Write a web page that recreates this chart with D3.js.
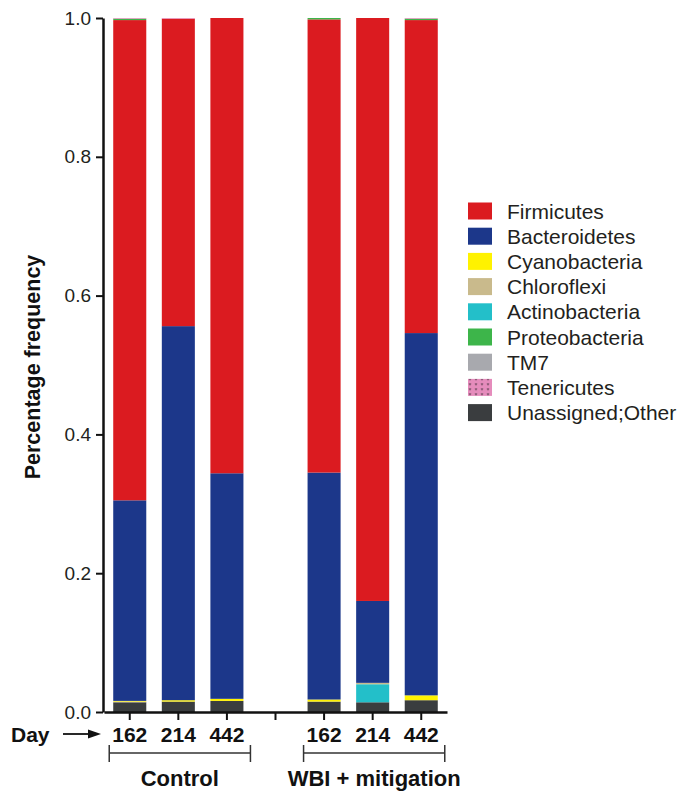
<!DOCTYPE html>
<html>
<head>
<meta charset="utf-8">
<script src="https://cdnjs.cloudflare.com/ajax/libs/d3/7.8.5/d3.min.js"></script>
<style>
  body { margin: 0; background: #fff; }
  svg { display: block; font-family: 'Liberation Sans', Arial, Helvetica, sans-serif; }
</style>
</head>
<body>
<div id="graph-container"></div>
<script>
// categories (gap slot separates the two groups)
const slots = ['c162', 'c214', 'c442', 'gap', 'w162', 'w214', 'w442'];
const dayLabels = ['162', '214', '442', '', '162', '214', '442'];
const groups = [
  { name: 'Control', from: 'c162', to: 'c442' },
  { name: 'WBI + mitigation', from: 'w162', to: 'w442' },
];
const yTicks = [0, 0.2, 0.4, 0.6, 0.8, 1.0];

// legend order (top to bottom)
const phyla = ['Firmicutes', 'Bacteroidetes', 'Cyanobacteria', 'Chloroflexi', 'Actinobacteria',
  'Proteobacteria', 'TM7', 'Tenericutes', 'Unassigned;Other'];
const colors = ['#db1b20', '#1c378a', '#fff200', '#c9ba8c', '#23bfc9', '#3db54a', '#a8a9ae', 'url(#teneri)', '#3a3d3f'];

// stacking order bottom -> top
const stackOrder = ['Unassigned;Other', 'Actinobacteria', 'Chloroflexi', 'Cyanobacteria',
  'Bacteroidetes', 'Firmicutes', 'TM7', 'Proteobacteria', 'Tenericutes'];

// relative abundance per sample, in slot order (gap omitted)
const samples = ['c162', 'c214', 'c442', 'w162', 'w214', 'w442'];
const firmicutes     = [0.692, 0.443, 0.656, 0.653, 0.840, 0.451];
const bacteroidetes  = [0.289, 0.539, 0.325, 0.327, 0.118, 0.522];
const cyanobacteria  = [0.001, 0.002, 0.003, 0.003, 0.000, 0.007];
const chloroflexi    = [0.001, 0.000, 0.000, 0.000, 0.002, 0.000];
const actinobacteria = [0.000, 0.000, 0.000, 0.000, 0.026, 0.000];
const proteobacteria = [0.002, 0.000, 0.000, 0.002, 0.000, 0.002];
const tm7            = [0.000, 0.000, 0.000, 0.000, 0.000, 0.000];
const tenericutes    = [0.001, 0.001, 0.000, 0.000, 0.000, 0.001];
const unassigned     = [0.014, 0.015, 0.016, 0.015, 0.014, 0.017];

const seriesByName = {
  'Firmicutes': firmicutes, 'Bacteroidetes': bacteroidetes, 'Cyanobacteria': cyanobacteria,
  'Chloroflexi': chloroflexi, 'Actinobacteria': actinobacteria, 'Proteobacteria': proteobacteria,
  'TM7': tm7, 'Tenericutes': tenericutes, 'Unassigned;Other': unassigned,
};

const width = 684, height = 791;
const svg = d3.select('#graph-container').append('svg')
  .attr('width', width).attr('height', height);

// pattern for Tenericutes
const defs = svg.append('defs');
const pat = defs.append('pattern').attr('id', 'teneri')
  .attr('patternUnits', 'userSpaceOnUse').attr('width', 6).attr('height', 5);
pat.append('rect').attr('width', 6).attr('height', 5).attr('fill', '#e58cbc');
pat.append('path').attr('d', 'M1,1 L2,2.5 L3,1').attr('stroke', '#3a2a33').attr('stroke-width', 0.8).attr('fill', 'none');

const x = d3.scaleBand().domain(slots).range([104, 447]).paddingInner(0.32).paddingOuter(0.19);
const y = d3.scaleLinear().domain([0, 1]).range([712, 18]);

// stacked data
const table = samples.map((s, i) => {
  const row = { slot: s };
  phyla.forEach(p => { row[p] = seriesByName[p][i]; });
  return row;
});
const stack = d3.stack().keys(stackOrder)(table);
const colorOf = d3.scaleOrdinal().domain(phyla).range(colors);

svg.append('g').selectAll('g')
  .data(stack)
  .join('g')
  .attr('fill', d => colorOf(d.key))
  .selectAll('rect')
  .data(d => d.filter(v => v[1] - v[0] > 0))
  .join('rect')
  .attr('x', d => x(d.data.slot))
  .attr('width', x.bandwidth())
  .attr('y', d => y(d[1]))
  .attr('height', d => y(d[0]) - y(d[1]));

// y axis
const yAxis = svg.append('g')
  .attr('transform', 'translate(103,0)')
  .call(d3.axisLeft(y).tickValues(yTicks).tickFormat(d3.format('.1f')).tickSize(7).tickSizeOuter(0));
yAxis.select('.domain').attr('stroke', '#111').attr('stroke-width', 2.5);
yAxis.selectAll('.tick line').attr('stroke', '#111').attr('stroke-width', 2);
yAxis.selectAll('.tick text').attr('font-size', 19).attr('fill', '#231f20').attr('x', -12)
  .attr('font-family', "'Liberation Sans', Arial, sans-serif");

// x axis
const xAxis = svg.append('g')
  .attr('transform', 'translate(0,712)')
  .call(d3.axisBottom(x).tickSize(8).tickSizeOuter(0).tickFormat(''));
xAxis.select('.domain').attr('stroke', '#111').attr('stroke-width', 2.5);
xAxis.selectAll('.tick line').attr('stroke', '#111').attr('stroke-width', 2);

// day labels
svg.append('g').selectAll('text')
  .data(slots)
  .join('text')
  .attr('x', d => x(d) + x.bandwidth() / 2)
  .attr('y', 742)
  .attr('text-anchor', 'middle')
  .attr('font-size', 21)
  .attr('font-weight', 'bold')
  .attr('fill', '#111')
  .text((d, i) => dayLabels[i]);

svg.append('text')
  .attr('x', 11).attr('y', 742)
  .attr('font-size', 21).attr('font-weight', 'bold').attr('fill', '#111')
  .text('Day');

// arrow
svg.append('line')
  .attr('x1', 63).attr('y1', 734).attr('x2', 92).attr('y2', 734)
  .attr('stroke', '#111').attr('stroke-width', 1.8);
svg.append('path')
  .attr('d', 'M101,734 L88,729.5 L88,738.5 Z')
  .attr('fill', '#111');

// group brackets
const bracket = svg.append('g').selectAll('g').data(groups).join('g');
const gx0 = d => x(d.from) - 4;
const gx1 = d => x(d.to) + x.bandwidth() + 7;
bracket.append('line')
  .attr('x1', gx0).attr('x2', gx1).attr('y1', 753).attr('y2', 753)
  .attr('stroke', '#333').attr('stroke-width', 1.5);
bracket.append('line')
  .attr('x1', gx0).attr('x2', gx0).attr('y1', 745).attr('y2', 762)
  .attr('stroke', '#333').attr('stroke-width', 1.5);
bracket.append('line')
  .attr('x1', gx1).attr('x2', gx1).attr('y1', 745).attr('y2', 762)
  .attr('stroke', '#333').attr('stroke-width', 1.5);
bracket.append('text')
  .attr('x', d => (gx0(d) + gx1(d)) / 2)
  .attr('y', 786)
  .attr('text-anchor', 'middle')
  .attr('font-size', 22).attr('font-weight', 'bold').attr('fill', '#111')
  .text(d => d.name);

// y title
svg.append('text')
  .attr('transform', 'translate(40,367) rotate(-90)')
  .attr('text-anchor', 'middle')
  .attr('font-size', 21.5).attr('font-weight', 'bold').attr('fill', '#111')
  .text('Percentage frequency');

// legend
const legend = svg.append('g').selectAll('g')
  .data(phyla)
  .join('g')
  .attr('transform', (d, i) => `translate(468,${211 + i * 25.2})`);
legend.append('rect')
  .attr('x', 0).attr('y', -8.5).attr('width', 24).attr('height', 17)
  .attr('fill', d => colorOf(d));
legend.append('text')
  .attr('x', 39).attr('y', 7.5)
  .attr('font-size', 21).attr('fill', '#231f20')
  .text(d => d);
</script>
</body>
</html>
